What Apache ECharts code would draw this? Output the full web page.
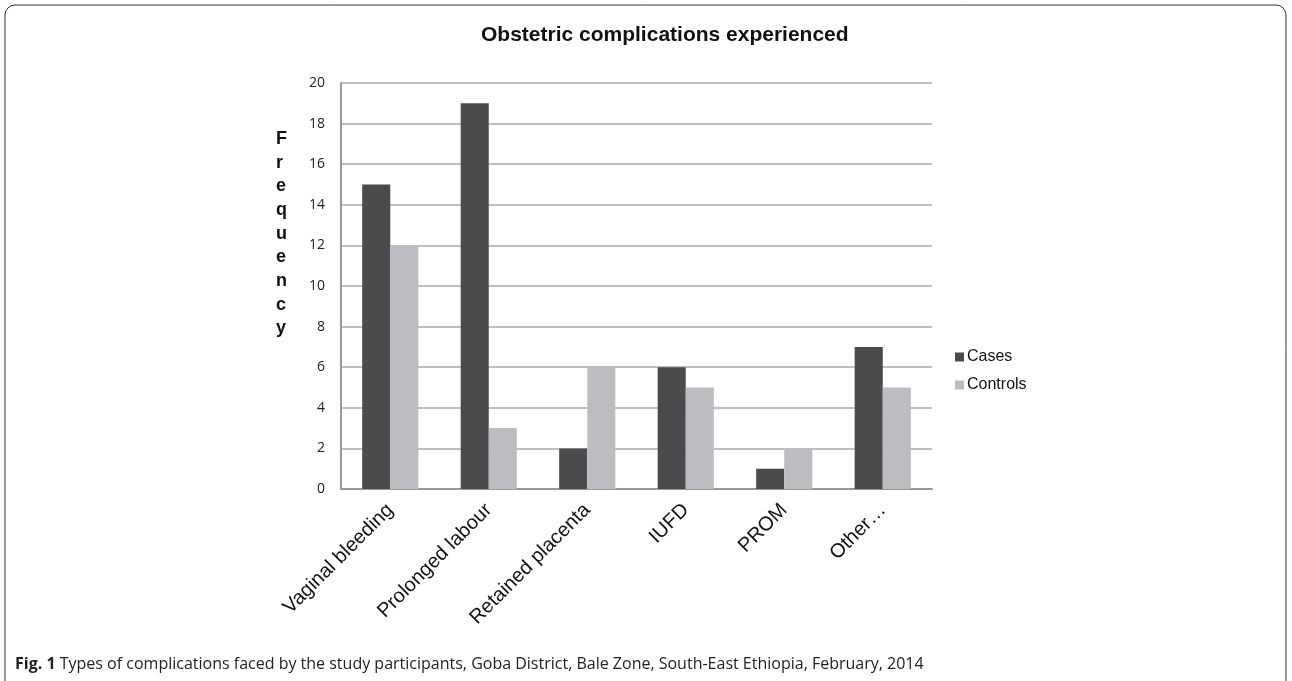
<!DOCTYPE html>
<html><head><meta charset="utf-8">
<script src="https://cdn.jsdelivr.net/npm/echarts@6/dist/echarts.min.js"></script>
<style>html,body{margin:0;padding:0;background:#fff}#c{width:1292px;height:681px}</style>
</head><body><div id="c"></div>
<script>
const categories = ['Vaginal bleeding','Prolonged labour','Retained placenta','IUFD','PROM','Other…'];
const cases = [15, 19, 2, 6, 1, 7];
const controls = [12, 3, 6, 5, 2, 5];
const yTicks = [0, 2, 4, 6, 8, 10, 12, 14, 16, 18, 20];

const chart = echarts.init(document.getElementById('c'));
chart.setOption({
  backgroundColor: '#fff',
  animation: false,
  title: [
    { text: 'Obstetric complications experienced', left: 476, top: 20,
      textStyle: { fontFamily: 'Liberation Sans, Arial', fontWeight: 'bold', fontSize: 21, color: '#111' } },
    { text: 'F\nr\ne\nq\nu\ne\nn\nc\ny', left: 271, top: 122,
      textStyle: { fontFamily: 'Liberation Sans, Arial', fontWeight: 'bold', fontSize: 18, color: '#111', lineHeight: 23.7 } },
    { text: '{b|Fig. 1} Types of complications faced by the study participants, Goba District, Bale Zone, South-East Ethiopia, February, 2014',
      left: 10, top: 651,
      textStyle: { fontFamily: 'Open Sans, sans-serif', fontWeight: 'normal', fontSize: 16, color: '#222',
        rich: { b: { fontFamily: 'Open Sans, sans-serif', fontWeight: 'bold', fontSize: 16, color: '#222' } } } }
  ],
  graphic: [
    { type: 'rect', shape: { x: 5, y: 5, width: 1281, height: 690, r: 10 }, style: { fill: 'none', stroke: '#333', lineWidth: 1 }, silent: true }
  ],
  legend: {
    orient: 'vertical', left: 950, top: 344, itemGap: 12, itemWidth: 9, itemHeight: 9,
    icon: 'rect',
    textStyle: { fontFamily: 'Liberation Sans, Arial', fontSize: 16, color: '#111', padding: [0,0,0,-2] },
    data: ['Cases', 'Controls']
  },
  grid: { left: 341, right: 1292 - 932, top: 83, bottom: 681 - 489, containLabel: false },
  xAxis: {
    type: 'category', data: categories,
    axisLine: { lineStyle: { color: '#999', width: 2 } },
    axisTick: { show: false },
    axisLabel: { rotate: 45, interval: 0, margin: 18, fontFamily: 'Liberation Sans, Arial', fontSize: 20, color: '#111' }
  },
  yAxis: {
    type: 'value', min: 0, max: 20, interval: 2,
    axisLine: { show: true, lineStyle: { color: '#999', width: 2 } },
    axisTick: { show: false },
    splitLine: { lineStyle: { color: '#aaa', width: 1.5 } },
    axisLabel: { margin: 16, fontFamily: 'Open Sans, sans-serif', fontSize: 14, color: '#222',
      formatter: v => yTicks.includes(v) ? String(v) : '' }
  },
  series: [
    { name: 'Cases', type: 'bar', data: cases, barGap: '0%', barCategoryGap: '43%',
      itemStyle: { color: '#4a4b4d' } },
    { name: 'Controls', type: 'bar', data: controls,
      itemStyle: { color: '#bcbdc0' } }
  ]
});
</script></body></html>
